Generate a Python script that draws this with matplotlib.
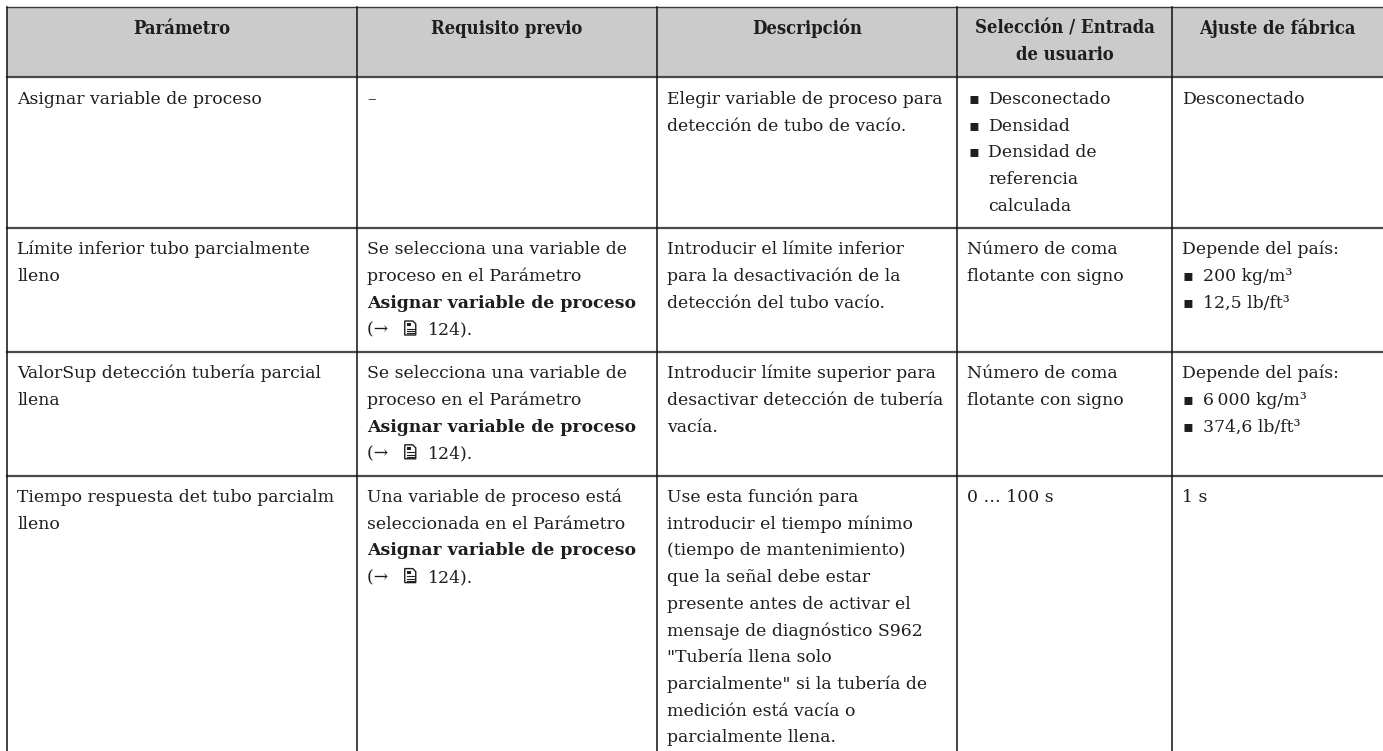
import matplotlib
matplotlib.use("Agg")
import matplotlib.pyplot as plt
from matplotlib.patches import Rectangle, Polygon

# ── Table content ─────────────────────────────────────────────────────────────
# "- " starts a bullet, "  " continues a bullet, "*" marks bold, "{doc}" = page icon
encabezados = [
    ["Parámetro"],
    ["Requisito previo"],
    ["Descripción"],
    ["Selección / Entrada", "de usuario"],
    ["Ajuste de fábrica"],
]

parametros = [
    ["Asignar variable de proceso"],
    ["Límite inferior tubo parcialmente", "lleno"],
    ["ValorSup detección tubería parcial", "llena"],
    ["Tiempo respuesta det tubo parcialm", "lleno"],
]

requisitos = [
    ["–"],
    ["Se selecciona una variable de", "proceso en el Parámetro",
     "*Asignar variable de proceso", "(→ {doc} 124)."],
    ["Se selecciona una variable de", "proceso en el Parámetro",
     "*Asignar variable de proceso", "(→ {doc} 124)."],
    ["Una variable de proceso está", "seleccionada en el Parámetro",
     "*Asignar variable de proceso", "(→ {doc} 124)."],
]

descripciones = [
    ["Elegir variable de proceso para", "detección de tubo de vacío."],
    ["Introducir el límite inferior", "para la desactivación de la",
     "detección del tubo vacío."],
    ["Introducir límite superior para", "desactivar detección de tubería",
     "vacía."],
    ["Use esta función para", "introducir el tiempo mínimo",
     "(tiempo de mantenimiento)", "que la señal debe estar",
     "presente antes de activar el", "mensaje de diagnóstico S962",
     "\"Tubería llena solo", "parcialmente\" si la tubería de",
     "medición está vacía o", "parcialmente llena."],
]

selecciones = [
    ["- Desconectado", "- Densidad", "- Densidad de", "  referencia", "  calculada"],
    ["Número de coma", "flotante con signo"],
    ["Número de coma", "flotante con signo"],
    ["0 … 100 s"],
]

ajustes = [
    ["Desconectado"],
    ["Depende del país:", "- 200 kg/m³", "- 12,5 lb/ft³"],
    ["Depende del país:", "- 6\u2009000 kg/m³", "- 374,6 lb/ft³"],
    ["1 s"],
]

# ── Layout (pixels) ───────────────────────────────────────────────────────────
W, H = 1383, 751
col_x = [7, 357, 657, 957, 1172, W]
top = 7
pitch = 26.7          # line spacing
first = 21            # row top -> centre of first line
extra = 17            # row height = n * pitch + extra
pad_x = 10
fs = 12.4
ink = "#1e1e1e"
FAM = ["DejaVu Serif", "DejaVu Sans"]

fig = plt.figure(figsize=(W / 100, H / 100), dpi=100)
ax = fig.add_axes([0, 0, 1, 1])
ax.set_xlim(0, W)
ax.set_ylim(H, 0)
ax.axis("off")
renderer = fig.canvas.get_renderer()
inv = ax.transData.inverted()


def text_right(t):
    bb = t.get_window_extent(renderer)
    return inv.transform((bb.x1, bb.y0))[0]


def draw_doc_icon(x, yc):
    # small page symbol with folded corner
    w, h = 11, 14
    y0 = yc - h / 2 - 1
    outline = [(x, y0), (x + w - 3, y0), (x + w, y0 + 3), (x + w, y0 + h), (x, y0 + h)]
    ax.add_patch(Polygon(outline, closed=True, fill=False, lw=1.0, ec=ink))
    ax.add_patch(Rectangle((x + 2, y0 + 2), 4.5, 3, fc=ink, ec="none"))
    for dy in (7.5, 10, 12):
        ax.plot([x + 2, x + w - 2], [y0 + dy, y0 + dy], color=ink, lw=0.8)
    return x + w


def draw_line(x, yc, s):
    base = yc + 5.5
    weight = "normal"
    if s.startswith("*"):
        s, weight = s[1:], "bold"
    if s.startswith("- "):
        ax.text(x + 1, base - 1, "\u25aa", fontsize=fs - 1, family="DejaVu Sans",
                color=ink, ha="left", va="baseline")
        s, x = s[2:], x + 21
    elif s.startswith("  "):
        s, x = s[2:], x + 21
    kw = dict(fontsize=fs, family=FAM, color=ink, ha="left", va="baseline",
              weight=weight)
    if "{doc}" in s:
        left, right = s.split("{doc}")
        t = ax.text(x, base, left, **kw)
        xe = draw_doc_icon(text_right(t) + 11, yc)
        ax.text(xe + 12, base, right.strip(), **kw)
    else:
        ax.text(x, base, s, **kw)


# header
n_head = max(len(h) for h in encabezados)
head_h = n_head * pitch + extra
ax.add_patch(Rectangle((col_x[0], top), W - col_x[0], head_h,
                       fc="#cbcbcb", ec="none"))
for c, lines in enumerate(encabezados):
    cx = (col_x[c] + col_x[c + 1]) / 2
    for i, s in enumerate(lines):
        ax.text(cx, top + first + i * pitch + 5.5, s, fontsize=fs + 0.8,
                family=FAM, weight="semibold", stretch="condensed", color=ink,
                ha="center", va="baseline")

# body rows
columnas = [parametros, requisitos, descripciones, selecciones, ajustes]
y = top + head_h
row_lines = [top + head_h]
for r in range(len(parametros)):
    n = max(len(col[r]) for col in columnas)
    for c, col in enumerate(columnas):
        for i, s in enumerate(col[r]):
            draw_line(col_x[c] + pad_x, y + first + i * pitch, s)
    y += n * pitch + extra
    row_lines.append(y)

# grid
ax.plot([col_x[0], W], [top, top], color="#3a3a3a", lw=1.0)
for yl in row_lines[:-1]:
    ax.plot([col_x[0], W], [yl, yl], color="#4a4a4a", lw=1.6)
for xl in col_x[:-1]:
    ax.plot([xl, xl], [top, H], color="#111111", lw=1.1)

fig.savefig("out.png", dpi=100)
